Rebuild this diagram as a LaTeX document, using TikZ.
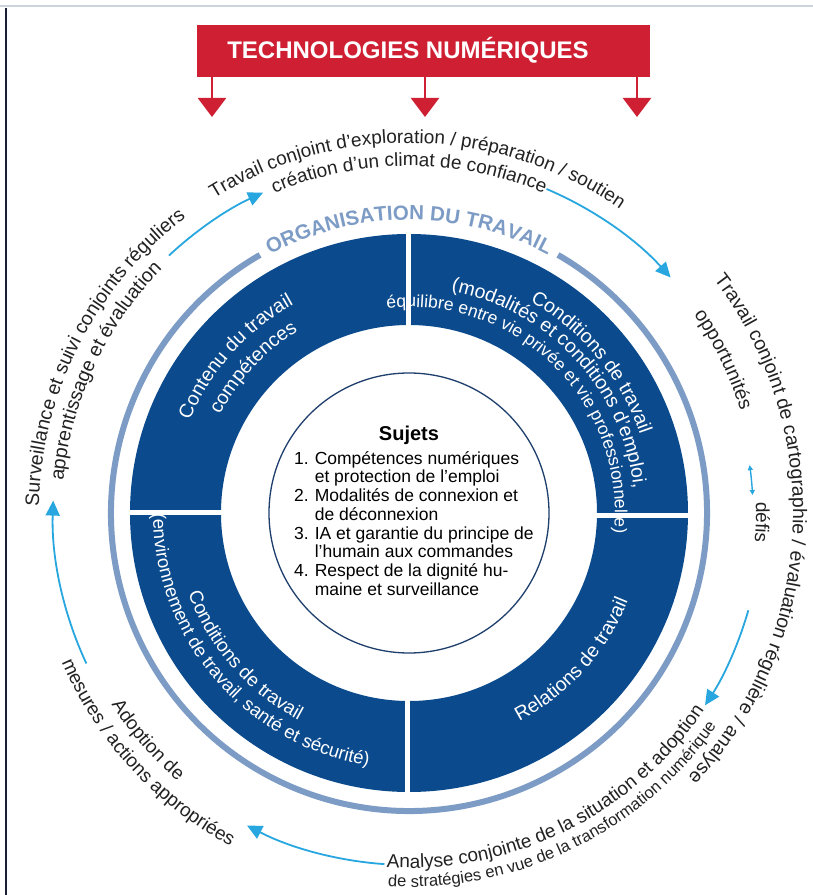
\documentclass[tikz,border=0pt]{standalone}
\usepackage{fontspec}
\setmainfont{Liberation Sans}
\usetikzlibrary{decorations.text,arrows.meta}
\definecolor{bandblue}{HTML}{0B4A8C}
\definecolor{ringblue}{HTML}{7D9CC5}
\definecolor{cyanarr}{HTML}{27A6DF}
\definecolor{banred}{HTML}{CF2033}
\definecolor{navyline}{HTML}{1E3E6C}
\definecolor{txt}{HTML}{222222}
\definecolor{topline}{HTML}{CCD3DD}
\definecolor{leftline}{HTML}{1B2030}
% #1 radius, #2 start angle, #3 end angle, #4 format, #5 colour, #6 text
\newcommand\arctxt[6]{%
  \path[decorate,decoration={text along path,text align=center,text color=#5,
    text={|#4|#6}}] (#2:#1pt) arc[start angle=#2, end angle=#3, radius=#1pt];}
\newcommand\fs[1]{\fontsize{#1}{#1}\selectfont}
\begin{document}
\begin{tikzpicture}[x=1pt,y=1pt,
  cyc/.style={draw=cyanarr, line width=1.8pt, -{Triangle[length=15pt,width=14pt]}},
  redarr/.style={draw=banred, line width=2.5pt, -{Triangle[length=19pt,width=28pt]}}]
\useasboundingbox (-409,513) rectangle (404,-382);
\fill[white] (-409,513) rectangle (404,-382);
\draw[topline, line width=2pt] (-409,507) -- (404,507);
\draw[leftline, line width=2.5pt] (-403,505) -- (-403,-382);

% banner
\node[fill=banred, minimum width=453pt, minimum height=52pt, inner sep=0pt, anchor=north west] (banner) at (-212,488) {};
\node[text=white, anchor=base, font=\bfseries\fs{24}] (bantitle) at (-1,454) {TECHNOLOGIES NUMÉRIQUES};
\coordinate (t1) at (-197,396);
\coordinate (t2) at (16,396);
\coordinate (t3) at (228,396);
\draw[redarr] (banner.south -| t1) -- (t1);
\draw[redarr] (banner.south -| t2) -- (t2);
\draw[redarr] (banner.south -| t3) -- (t3);

% blue band
\fill[bandblue, even odd rule] (0,0) circle[radius=279pt] (0,0) circle[radius=188pt];
\draw[white, line width=5pt] (-283,1) -- (-150,1);
\draw[white, line width=5pt] (150,-2) -- (283,-2);
\draw[white, line width=5pt] (0,150) -- (0,283);
\draw[white, line width=5pt] (-1,-150) -- (-1,-283);

% light ring
\draw[ringblue, line width=6pt] (120:298pt) arc[start angle=120, end angle=420, radius=298pt];
\arctxt{293}{130}{50}{\bfseries\fs{20.5}}{ringblue}{ORGANISATION DU TRAVAIL}

% subjects circle
\draw[navyline, line width=1.3pt] (0,0) circle[radius=140pt];
\node[anchor=base, font=\bfseries\fs{20}] (titre) at (0,73) {Sujets};
\node[anchor=north west, inner sep=0pt, font=\fontsize{17.5}{18.7}\selectfont] (liste) at (-115,62)
 {\begin{tabular}{@{}r@{\hspace{6pt}}l@{}}
 1. & Compétences numériques\\
    & et protection de l’emploi\\
 2. & Modalités de connexion et\\
    & de déconnexion\\
 3. & IA et garantie du principe de\\
    & l’humain aux commandes\\
 4. & Respect de la dignité hu-\\
    & maine et surveillance
 \end{tabular}};

% quadrant texts
\arctxt{238}{178}{98}{\fs{19.5}}{white}{Contenu du travail}
\arctxt{213}{177}{97}{\fs{19.5}}{white}{compétences}
\arctxt{244}{79.5}{-0.5}{\fs{19.5}}{white}{Conditions de travail}
\arctxt{226}{92.7}{-7.3}{\fs{19.5}}{white}{(modalités et conditions d'emploi,}
\arctxt{206}{105.3}{-14.7}{\fs{17.5}}{white}{équilibre entre vie privée et vie professionnelle)}
\arctxt{235}{181}{261}{\fs{19}}{white}{Conditions de travail}
\arctxt{256}{170}{271}{\fs{18.5}}{white}{(environnement de travail, santé et sécurité)}
\arctxt{236}{288}{348}{\fs{19.5}}{white}{Relations de travail}

% outer cycle texts
\arctxt{370}{138.5}{38.5}{\fs{19}}{txt}{Travail conjoint d'exploration / préparation / soutien}
\arctxt{347}{130}{50}{\fs{19}}{txt}{création d'un climat de confiance}
\arctxt{384}{47}{-53}{\fs{19.5}}{txt}{Travail conjoint de cartographie / évaluation régulière / analyse}
\arctxt{347}{41}{11}{\fs{19.5}}{txt}{opportunités}
\arctxt{347}{8.5}{-11.5}{\fs{19}}{txt}{défis}
\arctxt{370}{193}{113}{\fs{19.5}}{txt}{Surveillance et suivi conjoints réguliers}
\arctxt{347}{190}{120}{\fs{19.5}}{txt}{apprentissage et évaluation}
\arctxt{355}{256.3}{336.3}{\fs{19}}{txt}{Analyse conjointe de la situation et adoption}
\arctxt{374}{256}{336}{\fs{16.5}}{txt}{de stratégies en vue de la transformation numérique}
\arctxt{354}{206}{236}{\fs{19}}{txt}{Adoption de}
\arctxt{378}{197.5}{247.5}{\fs{19}}{txt}{mesures / actions appropriées}

% cycle arrows
\draw[cyc] (133:352pt) arc[start angle=133, end angle=114.5, radius=352pt];
\draw[cyc] (67:352pt) arc[start angle=67, end angle=42, radius=352pt];
\draw[cyc] (-16:353pt) arc[start angle=-16, end angle=-33, radius=353pt];
\draw[cyc] (266:352pt) arc[start angle=266, end angle=242.6, radius=352pt];
\draw[cyc] (205:356pt) arc[start angle=205, end angle=178, radius=356pt];
\draw[draw=cyanarr, line width=1.4pt, {Triangle[length=5pt,width=5pt]}-{Triangle[length=5pt,width=5pt]}]
  (8:344pt) arc[start angle=8, end angle=3, radius=344pt];
\end{tikzpicture}
\end{document}
